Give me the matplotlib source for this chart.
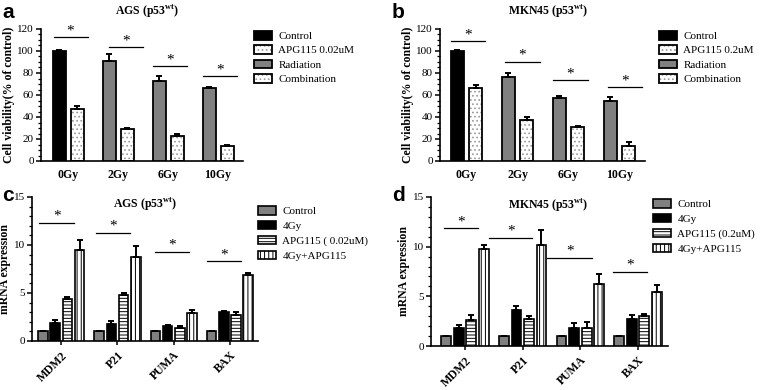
import matplotlib
matplotlib.use("Agg")
import matplotlib.pyplot as plt
import numpy as np
from matplotlib.patches import Patch
from matplotlib.ticker import AutoMinorLocator, MultipleLocator

plt.rcParams["font.family"] = ["Liberation Serif", "DejaVu Serif"]
plt.rcParams["mathtext.fontset"] = "custom"
plt.rcParams["mathtext.rm"] = "Liberation Serif"
plt.rcParams["mathtext.bf"] = "Liberation Serif:bold"
plt.rcParams["hatch.linewidth"] = 0.7

# ---- Datos ----
dosis = ["0Gy", "2Gy", "6Gy", "10Gy"]

# Panel a: AGS viabilidad
a_rad = [100, 91, 73, 66]          # Control en 0Gy, Radiation en el resto
a_rad_err = [0.5, 6, 4, 1]
a_comb = [47, 29, 23, 14]          # APG115 en 0Gy, Combination en el resto
a_comb_err = [3, 1, 1.5, 1]
a_sig_y = [112.5, 103.5, 86, 77]

# Panel b: MKN45 viabilidad
b_rad = [100, 76, 57, 55]
b_rad_err = [0.5, 4, 2, 3]
b_comb = [66, 37, 31, 14]
b_comb_err = [3, 3, 1, 3]
b_sig_y = [109, 90, 73.5, 67]

genes = ["MDM2", "P21", "PUMA", "BAX"]

# Panel c: AGS mRNA
c_ctrl = [1, 1, 1, 1]
c_4gy = [1.9, 1.8, 1.6, 3.0]
c_apg = [4.4, 4.8, 1.4, 2.7]
c_comb = [9.5, 8.8, 2.9, 6.9]
c_ctrl_err = [0.05, 0.05, 0.05, 0.05]
c_4gy_err = [0.3, 0.3, 0.1, 0.15]
c_apg_err = [0.2, 0.2, 0.15, 0.3]
c_comb_err = [1.0, 1.1, 0.3, 0.2]
c_sig_y = [12.3, 11.25, 9.3, 8.3]

# Panel d: MKN45 mRNA
d_ctrl = [1, 1, 1, 1]
d_4gy = [1.85, 3.6, 1.8, 2.7]
d_apg = [2.6, 2.75, 1.8, 3.0]
d_comb = [9.8, 10.2, 6.2, 5.4]
d_ctrl_err = [0.05, 0.05, 0.05, 0.05]
d_4gy_err = [0.3, 0.4, 0.5, 0.45]
d_apg_err = [0.5, 0.3, 0.6, 0.2]
d_comb_err = [0.4, 1.5, 1.0, 0.7]
d_sig_y = [11.85, 10.9, 8.9, 7.5]

GRIS = "#808080"
PUNTOS = "#9a9a9a"


def errores(ax, x, y, err):
    ax.errorbar(x, y, yerr=[np.zeros(len(y)), err], fmt="none", ecolor="black",
                elinewidth=1.4, capsize=2.2, capthick=1.4, zorder=4)


def estilo_ejes(ax):
    for s in ("top", "right"):
        ax.spines[s].set_visible(False)
    ax.spines["left"].set_linewidth(1.2)
    ax.spines["bottom"].set_linewidth(1.2)


def significancia(ax, rangos, alturas):
    for (x0, x1), h in zip(rangos, alturas):
        ax.plot([x0, x1], [h, h], color="black", lw=0.9)
        ax.text((x0 + x1) / 2, h, "*", ha="center", va="bottom", fontsize=11)


def panel_viabilidad(ax, rad, rad_err, comb, comb_err, sig_rangos, sig_y, xlim):
    x = np.arange(len(dosis))
    colores = ["black"] + [GRIS] * (len(dosis) - 1)
    w = 0.26
    ax.bar(x - 0.18, rad, w, color=colores, edgecolor="black", lw=1.3, zorder=3)
    ax.bar(x + 0.18, comb, w, color="white", edgecolor=PUNTOS, hatch="....", lw=0, zorder=2)
    ax.bar(x + 0.18, comb, w, fill=False, edgecolor="black", lw=1.3, zorder=3)
    errores(ax, x - 0.18, rad, rad_err)
    errores(ax, x + 0.18, comb, comb_err)
    significancia(ax, sig_rangos, sig_y)
    ax.set_xlim(*xlim)
    ax.set_ylim(0, 120)
    ax.yaxis.set_major_locator(MultipleLocator(20))
    ax.yaxis.set_minor_locator(AutoMinorLocator(4))
    ax.set_xticks(x)
    ax.set_xticklabels(dosis, fontweight="bold", fontsize=8.5)
    ax.tick_params(axis="x", length=0, pad=6)
    ax.tick_params(axis="y", which="major", length=3.5, width=1.1, labelsize=8, pad=1.5)
    ax.tick_params(axis="y", which="minor", length=2, width=0.9)
    ax.set_ylabel("Cell viability(% of control)", fontweight="bold", fontsize=8.5, labelpad=2)
    estilo_ejes(ax)


def panel_mrna(ax, series, errs, sig_rangos, sig_y, xlim):
    x = np.arange(len(genes))
    paso, w = 0.217, 0.17
    offs = [-1.5 * paso, -0.5 * paso, 0.5 * paso, 1.5 * paso]
    ax.bar(x + offs[0], series[0], w, color=GRIS, edgecolor="black", lw=1.2, zorder=3)
    ax.bar(x + offs[1], series[1], w, color="black", edgecolor="black", lw=1.2, zorder=3)
    ax.bar(x + offs[2], series[2], w, color="white", edgecolor="black", hatch="-----", lw=1.2, zorder=3)
    ax.bar(x + offs[3], series[3], w, color="white", edgecolor="black", hatch="||||", lw=1.2, zorder=3)
    for o, s, e in zip(offs, series, errs):
        errores(ax, x + o, s, e)
    significancia(ax, sig_rangos, sig_y)
    ax.set_xlim(*xlim)
    ax.set_ylim(0, 15)
    ax.yaxis.set_major_locator(MultipleLocator(5))
    ax.yaxis.set_minor_locator(AutoMinorLocator(5))
    ax.set_xticks(x)
    ax.set_xticklabels(genes, fontweight="bold", fontsize=8.5, rotation=45,
                       ha="right", rotation_mode="anchor")
    ax.tick_params(axis="x", length=3, width=1.1, pad=3)
    ax.tick_params(axis="y", which="major", length=3.5, width=1.1, labelsize=8, pad=1.5)
    ax.tick_params(axis="y", which="minor", length=2, width=0.9)
    ax.set_ylabel("mRNA expression", fontweight="bold", fontsize=8.5, labelpad=2)
    estilo_ejes(ax)


W, H = 778, 390
fig = plt.figure(figsize=(W / 100, H / 100), dpi=100)


def caja(x0, x1, y0, y1):
    return [x0 / W, 1 - y1 / H, (x1 - x0) / W, (y1 - y0) / H]


ax_a = fig.add_axes(caja(41, 243, 29, 161))
ax_b = fig.add_axes(caja(440, 645, 29, 161))
ax_c = fig.add_axes(caja(32, 258, 197, 341))
ax_d = fig.add_axes(caja(431, 668, 197, 346))

panel_viabilidad(ax_a, a_rad, a_rad_err, a_comb, a_comb_err,
                 [(-0.29, 0.39), (0.82, 1.50), (1.70, 2.38), (2.70, 3.38)],
                 a_sig_y, (-0.54, 3.5))
panel_viabilidad(ax_b, b_rad, b_rad_err, b_comb, b_comb_err,
                 [(-0.30, 0.36), (0.75, 1.44), (1.70, 2.38), (2.77, 3.44)],
                 b_sig_y, (-0.52, 3.5))
panel_mrna(ax_c, [c_ctrl, c_4gy, c_apg, c_comb],
           [c_ctrl_err, c_4gy_err, c_apg_err, c_comb_err],
           [(-0.39, 0.23), (0.62, 1.22), (1.67, 2.28), (2.60, 3.19)],
           c_sig_y, (-0.52, 3.5))
panel_mrna(ax_d, [d_ctrl, d_4gy, d_apg, d_comb],
           [d_ctrl_err, d_4gy_err, d_apg_err, d_comb_err],
           [(-0.36, 0.23), (0.42, 1.17), (1.43, 2.20), (2.56, 3.16)],
           d_sig_y, (-0.59, 3.52))


# Leyendas
def leyenda_viab(ax, etiquetas, x, y):
    punteado = (Patch(facecolor="white", edgecolor=PUNTOS, hatch="....", lw=0),
                Patch(fill=False, edgecolor="black", lw=1.3))
    handles = [Patch(facecolor="black", edgecolor="black", lw=1.3), punteado,
               Patch(facecolor=GRIS, edgecolor="black", lw=1.3), punteado]
    ax.legend(handles, etiquetas, loc="upper left", bbox_to_anchor=(x / W, 1 - y / H),
              bbox_transform=fig.transFigure, frameon=False, fontsize=8,
              handlelength=1.6, handleheight=0.8, handletextpad=0.6,
              labelspacing=0.38, borderpad=0, borderaxespad=0)


def leyenda_mrna(ax, etiquetas, x, y):
    handles = [Patch(facecolor=GRIS, edgecolor="black", lw=1.2),
               Patch(facecolor="black", edgecolor="black", lw=1.2),
               Patch(facecolor="white", edgecolor="black", hatch="-----", lw=1.2),
               Patch(facecolor="white", edgecolor="black", hatch="||||", lw=1.2)]
    ax.legend(handles, etiquetas, loc="upper left", bbox_to_anchor=(x / W, 1 - y / H),
              bbox_transform=fig.transFigure, frameon=False, fontsize=8,
              handlelength=1.6, handleheight=0.8, handletextpad=0.6,
              labelspacing=0.42, borderpad=0, borderaxespad=0)


leyenda_viab(ax_a, ["Control", "APG115 0.02uM", "Radiation", "Combination"], 254, 31)
leyenda_viab(ax_b, ["Control", "APG115 0.2uM", "Radiation", "Combination"], 659, 31)
leyenda_mrna(ax_c, ["Control", "4Gy", "APG115 ( 0.02uM)", "4Gy+APG115"], 258, 206)
leyenda_mrna(ax_d, ["Control", "4Gy", "APG115 (0.2uM)", "4Gy+APG115"], 653, 199)

# Títulos y letras de panel
titulos = [(r"AGS (p53$^{\mathbf{wt}}$)", 147, 11), (r"MKN45 (p53$^{\mathbf{wt}}$)", 548, 11),
           (r"AGS (p53$^{\mathbf{wt}}$)", 145, 204), (r"MKN45 (p53$^{\mathbf{wt}}$)", 548, 205)]
for txt, x, y in titulos:
    fig.text(x / W, 1 - y / H, txt, ha="center", va="center", fontsize=8.5, fontweight="bold")

for letra, x, y in [("a", 2, 3), ("b", 392, 3), ("c", 2, 186), ("d", 392, 186)]:
    fig.text(x / W, 1 - y / H, letra, ha="left", va="top", fontsize=15,
             fontweight="bold", family="Liberation Sans")

fig.savefig("out.png", dpi=100)
